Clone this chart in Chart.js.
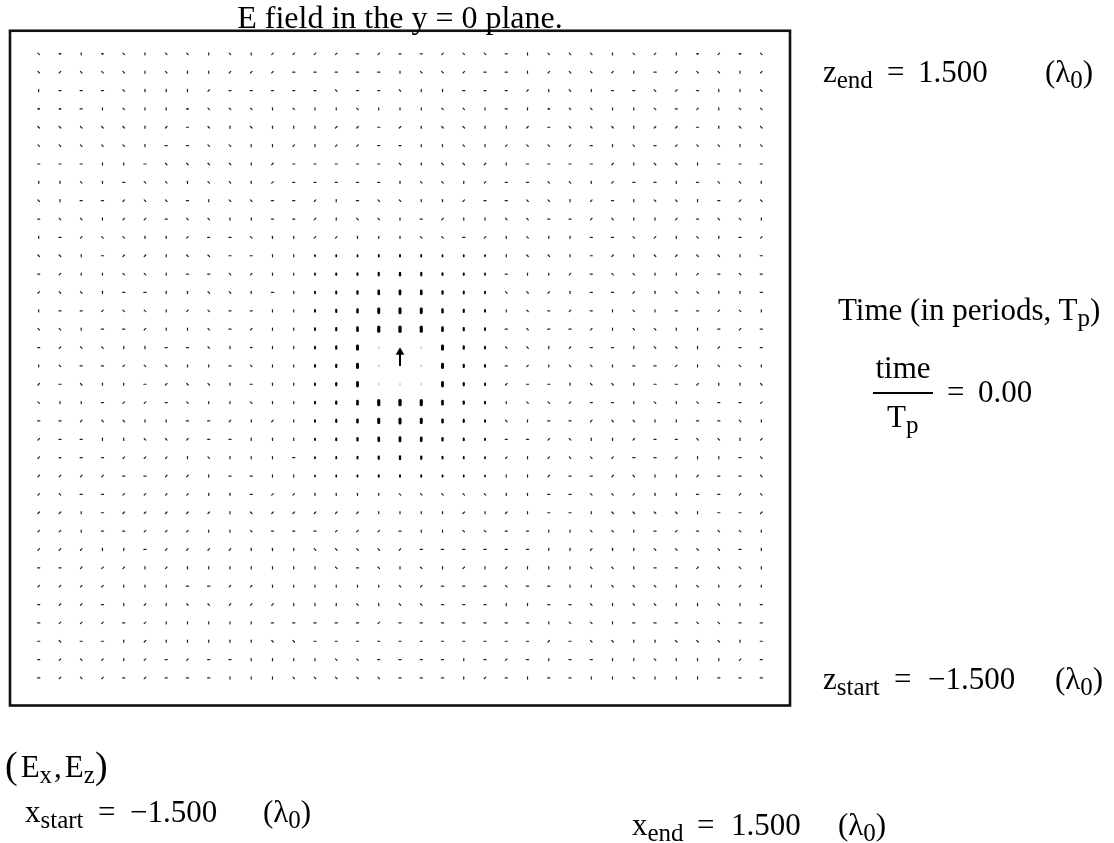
<!DOCTYPE html>
<html><head><meta charset="utf-8">
<script src="https://cdn.jsdelivr.net/npm/chart.js@4/dist/chart.umd.min.js"></script>
<style>
html,body{margin:0;padding:0;background:#fff;}
#wrap{position:relative;width:1114px;height:843px;overflow:hidden;}
canvas{position:absolute;left:0;top:0;}
.t{position:absolute;font-family:'Liberation Serif','Times New Roman',serif;font-size:31px;line-height:31px;white-space:nowrap;color:#000;}
.s{font-size:25px;position:relative;top:6px;}
.big{font-size:38px;position:relative;top:1px;}
.bar{position:absolute;background:#000;height:2px;}
</style></head><body>
<div id="wrap">
<canvas id="c" width="1114" height="843"></canvas>
<div class="t" style="left:0;width:800px;text-align:center;top:1px;font-size:32px;line-height:32px">E field in the y = 0 plane.</div>

<div class="t" style="left:823px;top:56px">z<span class="s">end</span></div>
<div class="t" style="left:887px;top:56px">=</div>
<div class="t" style="left:918px;top:56px">1.500</div>
<div class="t" style="left:1045px;top:56px">(λ<span class="s">0</span>)</div>

<div class="t" style="left:838px;top:294px">Time (in periods, T<span class="s">p</span>)</div>
<div class="t" style="left:873px;width:60px;text-align:center;top:352px">time</div>
<div class="bar" style="left:873px;width:60px;top:392px"></div>
<div class="t" style="left:887px;top:401px">T<span class="s">p</span></div>
<div class="t" style="left:947px;top:376px">=</div>
<div class="t" style="left:978px;top:376px">0.00</div>

<div class="t" style="left:823px;top:663px">z<span class="s">start</span></div>
<div class="t" style="left:894px;top:663px">=</div>
<div class="t" style="left:928px;top:663px">−1.500</div>
<div class="t" style="left:1055px;top:663px">(λ<span class="s">0</span>)</div>

<div class="t" style="left:5px;top:749px"><span class="big">(</span><span style="margin-left:3px">E</span><span class="s">x</span><span style="margin-left:2px">,</span><span style="margin-left:3px">E</span><span class="s">z</span><span class="big">)</span></div>

<div class="t" style="left:25px;top:796px">x<span class="s">start</span></div>
<div class="t" style="left:98px;top:796px">=</div>
<div class="t" style="left:130px;top:796px">−1.500</div>
<div class="t" style="left:263px;top:796px">(λ<span class="s">0</span>)</div>

<div class="t" style="left:632px;top:809px">x<span class="s">end</span></div>
<div class="t" style="left:697px;top:809px">=</div>
<div class="t" style="left:731px;top:809px">1.500</div>
<div class="t" style="left:838px;top:809px">(λ<span class="s">0</span>)</div>
</div>
<script>
// grid limits (from the labels)
const xStart = -1.5, xEnd = 1.5, zStart = -1.5, zEnd = 1.5;
const gridN = 35;

// direction of the small far-field vectors, top row (z = zEnd) first
// h = horizontal, v = vertical, r = "\" , l = "/", o = dot, "." = near-field cell
const farDirRows = [
  "rovor vrrvr vllll hlhhl rrhvr rrvrl volor",
  "rlrrr vrvvl llhhh hhvrr lhhvl rrlvh lrrvl",
  "vhhhr vvvlh hhhhr hhrvv hhhlv rvhhr lhvvr",
  "oohvr vvorr rvrvv rvvvr rvhvo rrvvr hlvrr",
  "rrrrr vlhrv rvvvl lhlvr rvvlh rrrvl lhvrr",
  "rrrrr vhhrr vvlvl lhhvv rvlrr lhvrh lrrvr",
  "hhhvv hrrrr vlhhh hhrvr rlvhh hhlvr rvhhh",
  "vvrvh rrvrr vlhhh hhvrr vlhhr rvlhh vhrrv",
  "rvhhl rrhvr rhhlv hrrvv lhhrr vlhvr rvhlr",
  "hrrvl lhrrv vhhlv rrvhl vvrrh hlrvv lhrrv",
  "vhlrr vvlhh rvvll vvvrr hlvrv vhhrl vrvhl",
  "rrvhl lvrrh hvv.. ..... ..vrr vhlvr lrrvh",
  "hlvvr rvhhr lvv.. ..... ..hvv lhrrv vlhrh",
  "lrrvh hvvrr vhv.. ..... ..rrl vhhlv rrvvh",
  "vhhlr rvlrh hvv.. ..... ..vrh lhvrv hhlrv",
  "rrvhh lvvrh lvv.. ..... ..hrh hlvrr vvhlh",
  "hlrrv vhhrv ovv.. ..... ..rrv lhhvr rvlhh",
  "vrhhl rrvvh rvv.. ..... ..hlv rrvhh lvrrv",
  "lhrvv hlrrv hvv.. ..... ..lhh vrrvh hlvvr",
  "rvvhl lhrvv rvv.. ..... ..vrr lhhvr vrhhl",
  "hhlrr vvhhl vlv.. ..... ..rvh hlrrv vhhrv",
  "lhhvv rrlhh vvv.. ..... ..hhl rvvlh hrrvl",
  "lohhl llvrv vvh.. ..... ..lvl rrlhh lvvhr",
  "llllh hllvh hvv.. ..... ..vvl hhlrv vlhhr",
  "lrhhl lllvv hllvv vvrrr rrvvh hrrlv vhhlr",
  "llvhl llllv rllll lvvvv lvlvh hvrrr rvhhl",
  "llvhh lllvv rhhhl llhvv rrhhv vrrvh lhrrv",
  "lllvv hllll vvvrr rrlhh hhhhv vlvvr rrrhv",
  "hhlll vlvvv vvvvr hrvrv lvlvv vrrvh hlrrv",
  "llllv vvhhl lvvvv vvrlh hhrhh vvrrr vrvlv",
  "hllhv lvrrl llvvv rvrrh hhvvh hrvrr vvrvh",
  "hlllh lvvvv vhhhh hlhhh hhhhv rrvhh hrrhh",
  "hrhhv lvvvv vrrhh hhhhh hhhhl hrrvv rrrvh",
  "hlrlv lhlhh vvvvr rhhhh vhlhv hhvvr vvvlh",
  "hlrlh lhhhv vvrrr rrhhh vlhvh hvvrv vvhhh"
];

// near-field |E| (mostly vertical), rows 11..23, columns 13..21
const nearRowStart = 11, nearColStart = 13;
const nearMagRows = [
  [1.2,1.3,1.4,1.6,1.7,1.6,1.4,1.3,1.2],
  [1.4,1.6,1.9,2.4,2.6,2.4,1.9,1.6,1.4],
  [1.6,1.9,2.4,3.2,3.4,3.2,2.4,1.9,1.6],
  [1.7,2.2,2.8,3.8,4.0,3.8,2.8,2.2,1.7],
  [1.8,2.3,3.2,4.2,4.4,4.2,3.2,2.3,1.8],
  [1.8,2.3,3.6,0.3,0.0,0.3,3.6,2.3,1.8],
  [1.8,2.3,3.6,0.3,0.0,0.3,3.6,2.3,1.8],
  [1.8,2.3,3.6,0.3,0.3,0.3,3.6,2.3,1.8],
  [1.8,2.3,3.2,4.2,4.4,4.2,3.2,2.3,1.8],
  [1.7,2.2,2.8,3.8,4.0,3.8,2.8,2.2,1.7],
  [1.6,1.9,2.4,3.2,3.4,3.2,2.4,1.9,1.6],
  [1.4,1.6,1.9,2.4,2.6,2.4,1.9,1.6,1.4],
  [1.2,1.3,1.4,1.6,1.7,1.6,1.4,1.3,1.2]
];

// the source vector drawn as an arrow at the origin
const sourceX = [0, 0];
const sourceZ = [0, 0.066];

const dirAngle = {h:0, v:90, r:45, l:135, o:0};

const farPts = [], nearPts = [], faintPts = [];
const dx = (xEnd - xStart) / (gridN - 1), dz = (zEnd - zStart) / (gridN - 1);
farDirRows.forEach((row, i) => {
  const cells = row.replace(/ /g, '');
  const z = zEnd - i * dz;
  for (let j = 0; j < gridN; j++) {
    const x = xStart + j * dx;
    const ni = i - nearRowStart, nj = j - nearColStart;
    if (ni >= 0 && ni < nearMagRows.length && nj >= 0 && nj < nearMagRows[0].length) {
      const m = nearMagRows[ni][nj];
      if (m === 0) continue;
      (m < 0.5 ? faintPts : nearPts).push({x: x, y: z, m: m});
    } else {
      farPts.push({x: x, y: z, d: cells[j] || 'o'});
    }
  }
});

const framePlugin = {
  id: 'frame',
  beforeDatasetDraw(chart, args) {
    if (args.index < 3) chart.ctx.lineCap = 'round';
  },
  afterDatasetDraw(chart) {
    chart.ctx.lineCap = 'butt';
  },
  afterDraw(chart) {
    const a = chart.chartArea, c = chart.ctx;
    c.save();
    c.strokeStyle = '#111';
    c.lineWidth = 2.6;
    c.strokeRect(a.left - 1, a.top - 1.25, a.right - a.left + 2, a.bottom - a.top + 1.75);
    c.restore();
  }
};

new Chart(document.getElementById('c'), {
  type: 'scatter',
  data: {
    datasets: [
      {
        data: farPts, pointStyle: 'line',
        pointRotation: c => dirAngle[c.raw.d],
        pointRadius: c => c.raw.d === 'o' ? 0.6 : 1.1,
        pointBorderWidth: c => c.raw.d === 'o' ? 1.6 : 1.2,
        pointBorderColor: '#222', pointBackgroundColor: '#222'
      },
      {
        data: nearPts, pointStyle: 'line', pointRotation: 90,
        pointRadius: c => c.raw.m * 0.48,
        pointBorderWidth: c => Math.min(3.3, 1 + c.raw.m * 0.52),
        pointBorderColor: '#000', pointBackgroundColor: '#000'
      },
      {
        data: faintPts, pointStyle: 'line', pointRotation: 90,
        pointRadius: 0.6, pointBorderWidth: 1.3,
        pointBorderColor: '#bbb', pointBackgroundColor: '#bbb'
      },
      {
        type: 'line', showLine: true,
        data: sourceX.map((x, i) => ({x: x, y: sourceZ[i]})),
        borderColor: '#000', borderWidth: 2,
        pointStyle: 'triangle', pointRotation: 0,
        pointRadius: c => c.dataIndex === 1 ? 5 : 0,
        pointBackgroundColor: '#000', pointBorderColor: '#000', pointBorderWidth: 0
      }
    ]
  },
  options: {
    responsive: false, animation: false, events: [],
    layout: {padding: {left: 11, top: 32, right: 325, bottom: 138}},
    scales: {
      x: {type: 'linear', display: false, min: -1.615, max: 1.615},
      y: {type: 'linear', display: false, min: -1.63, max: 1.605}
    },
    plugins: {legend: {display: false}, tooltip: {enabled: false}, title: {display: false}}
  },
  plugins: [framePlugin]
});
</script>
</body></html>
